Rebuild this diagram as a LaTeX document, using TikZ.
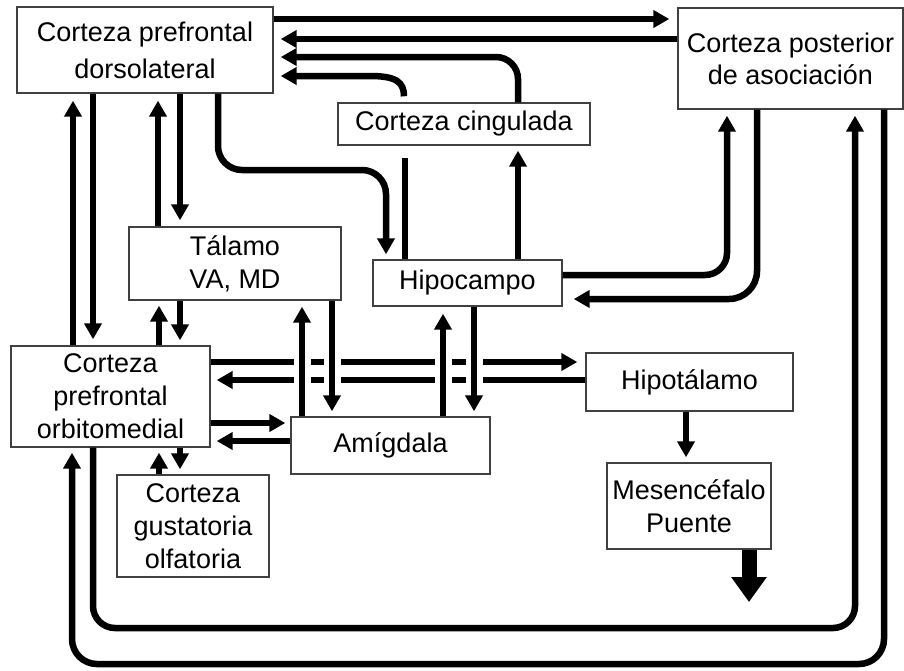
\documentclass[tikz,border=0pt]{standalone}
\usepackage{fontspec}
\setmainfont{Liberation Sans}
\usetikzlibrary{arrows.meta,calc}
\begin{document}
\begin{tikzpicture}[x=1pt,y=-1pt,
  box/.style={draw=black!75, line width=1.4pt, fill=white, inner sep=0pt, align=center, font=\fontsize{27}{33}\selectfont},
  ln/.style={line width=6.5pt},
  arr/.style={line width=6.5pt, -{Triangle[length=16pt,width=17pt]}},
  bigarr/.style={line width=15pt, -{Triangle[length=25pt,width=34pt]}},
  mask/.style={white, line width=17pt}]
\useasboundingbox (0,0) rectangle (904,670);

% boxes
\node[box, minimum width=256pt, minimum height=86pt, font=\fontsize{27}{37}\selectfont] (dl) at (145,50) {Corteza prefrontal\\dorsolateral};
\node[box, minimum width=225pt, minimum height=101pt, font=\fontsize{27}{32}\selectfont] (cpa) at (790.5,58.5) {Corteza posterior\\de asociación};
\node[box, minimum width=252pt, minimum height=42pt] (cg) at (464,124) {Corteza cingulada};
\node[box, minimum width=212pt, minimum height=73pt] (th) at (235,263.5) {Tálamo\\VA, MD};
\node[box, minimum width=189pt, minimum height=46pt] (hc) at (467.5,283) {Hipocampo};
\node[box, minimum width=199pt, minimum height=101pt] (om) at (110.5,396.5) {Corteza\\prefrontal\\orbitomedial};
\node[box, minimum width=199pt, minimum height=57pt] (am) at (390.5,445.5) {Amígdala};
\node[box, minimum width=152pt, minimum height=102pt] (gu) at (193,526) {Corteza\\gustatoria\\olfatoria};
\node[box, minimum width=207pt, minimum height=58pt] (hy) at (689.5,382) {Hipotálamo};
\node[box, minimum width=164pt, minimum height=86pt] (ms) at (689,506) {Mesencéfalo\\Puente};

% top connections
\draw[arr, shorten >=8pt] (dl.east |- 0,19) -- (cpa.west |- 0,19);
\draw[arr, shorten >=7pt] (cpa.west |- 0,39) -- (dl.east |- 0,39);
\draw[arr, shorten >=7pt, rounded corners=22pt] (cg.north -| 518,0) -- (518,57) -- (dl.east |- 0,57);
\draw[arr, shorten >=7pt] ($(cg.north -| 404,0)+(0,-6)$) .. controls (404,82) and (396,76) .. (370,76) -- (dl.east |- 0,76);

% DLPFC -> Hipocampo
\draw[arr, shorten >=5pt, rounded corners=24pt] (dl.south -| 218,0) -- (218,170) -- (386,170) -- (hc.north -| 386,0);
% Hipocampo -> cingulada
\draw[arr, shorten >=5pt] (hc.north -| 518,0) -- (cg.south -| 518,0);
\draw[ln] (hc.north -| 405,0) -- ($(cg.south -| 405,0)+(0,12)$);
% Hipocampo <-> CPA
\draw[arr, shorten >=6pt, rounded corners=22pt] (hc.east |- 0,275) -- (727,275) -- (cpa.south -| 727,0);
\draw[arr, shorten >=11pt, rounded corners=28pt] (cpa.south -| 757,0) -- (757,299) -- (hc.east |- 0,299);

% left verticals DLPFC <-> OM, DLPFC <-> Talamo
\draw[arr, shorten >=7pt] (om.north -| 73,0) -- (dl.south -| 73,0);
\draw[arr, shorten >=6pt] (dl.south -| 93,0) -- (om.north -| 93,0);
\draw[arr, shorten >=7pt] (th.north -| 158,0) -- (dl.south -| 158,0);
\draw[arr, shorten >=6pt] (dl.south -| 180,0) -- (th.north -| 180,0);
% Talamo <-> OM
\draw[arr, shorten >=5pt] (om.north -| 159,0) -- (th.south -| 159,0);
\draw[arr, shorten >=5pt] (th.south -| 180,0) -- (om.north -| 180,0);

% OM <-> Hipotalamo
\draw[arr, shorten >=8pt] (om.east |- 0,362) -- (hy.west |- 0,362);
\draw[arr, shorten >=6pt] (hy.west |- 0,380) -- (om.east |- 0,380);
% gaps where vertical lines cross
\foreach \x in {302,332,443,474} \draw[mask] (\x,352) -- (\x,390);

% Talamo <-> Amigdala
\draw[arr, shorten >=6pt] (am.north -| 302,0) -- (th.south -| 302,0);
\draw[arr, shorten >=5pt] (th.south -| 332,0) -- (am.north -| 332,0);
% Hipocampo <-> Amigdala
\draw[arr, shorten >=7pt] (am.north -| 443,0) -- (hc.south -| 443,0);
\draw[arr, shorten >=5pt] (hc.south -| 474,0) -- (am.north -| 474,0);
% OM <-> Amigdala
\draw[arr, shorten >=5pt] (om.east |- 0,423) -- (am.west |- 0,423);
\draw[arr, shorten >=6pt] (am.west |- 0,441) -- (om.east |- 0,441);
% OM <-> gustatoria
\draw[arr, shorten >=5pt] (gu.north -| 159,0) -- (om.south -| 159,0);
\draw[arr, shorten >=5pt] (om.south -| 180,0) -- (gu.north -| 180,0);
% Hipotalamo -> Mesencefalo
\draw[arr, shorten >=5pt] (hy.south -| 686,0) -- (ms.north -| 686,0);
% Mesencefalo down
\coordinate (out) at (749,602);
\draw[bigarr] (ms.south -| 749,0) -- (out);

% bottom loops
\draw[arr, shorten >=6pt, rounded corners=22pt] (om.south -| 93,0) -- (93,628) -- (855,628) -- (cpa.south -| 855,0);
\draw[arr, shorten >=5pt, rounded corners=25pt] (cpa.south -| 884,0) -- (884,664) -- (72,664) -- (om.south -| 72,0);
\end{tikzpicture}
\end{document}
